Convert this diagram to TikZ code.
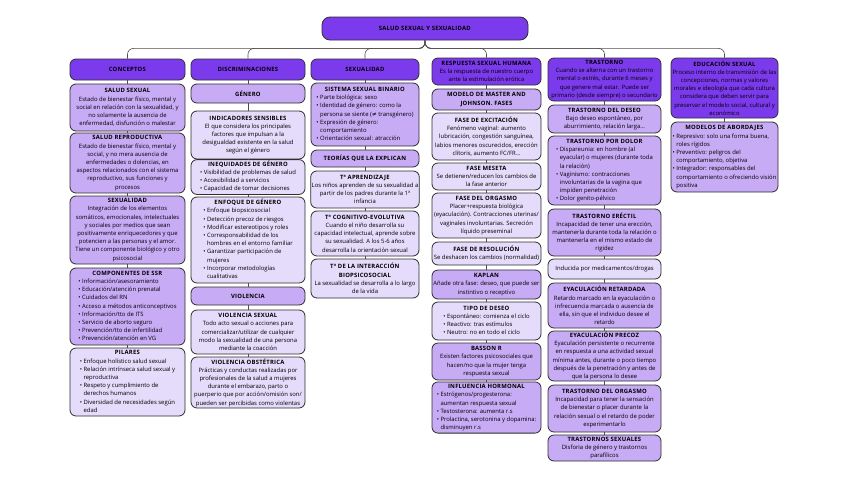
\documentclass[tikz,border=0pt]{standalone}
\usepackage{fontspec}
\setmainfont{Open Sans}
\newfontfamily\dejavu{DejaVu Sans}
\definecolor{dark}{HTML}{7C3AED}
\definecolor{mid}{HTML}{C7ABF5}
\definecolor{light}{HTML}{E5DBFA}
\definecolor{edge}{HTML}{2E2E2E}
\newcommand\fs{\fontsize{5.9}{8.2}\selectfont}
\newcommand\tb[1]{\textbf{\addfontfeature{LetterSpace=4}#1}}
\newcommand\lst[2]{\begin{tabular}{@{}l@{}}\multicolumn{1}{@{}c@{}}{\tb{#1}}\\#2\end{tabular}}
\newcommand\bl{\textbullet\ }
\newcommand\ct{\phantom{\textbullet\ }}
\tikzset{
  box/.style={draw=edge, line width=0.8pt, rounded corners=6pt, inner sep=1pt, font=\fs, text=black, align=center},
  hd/.style={box, fill=dark},
  md/.style={box, fill=mid},
  lt/.style={box, fill=light},
  cA/.style={minimum width=115pt},
  cB/.style={minimum width=114pt},
  cC/.style={minimum width=108pt},
  cD/.style={minimum width=109pt},
  cE/.style={minimum width=113pt},
  cF/.style={minimum width=107pt},
  hgt/.style={minimum height=#1},
  conn/.style={draw=edge!85, line width=0.6pt},
  trunk/.style={conn, rounded corners=6pt},
}
\begin{document}
\begin{tikzpicture}[x=1pt,y=-1pt]
\useasboundingbox[fill=white] (0,0) rectangle (848,477);
% title
\node[hd, minimum width=206pt, minimum height=23pt, rounded corners=8pt] (title) at (425,28.5) {\tb{SALUD SEXUAL Y SEXUALIDAD}};

% ---------- column A: conceptos
\node[hd, cA, hgt=21pt] (a0) at (127.5,69.5) {\tb{CONCEPTOS}};
\node[md, cA, hgt=47pt] (a1) at (127.5,107.5) {\tb{SALUD SEXUAL}\\Estado de bienestar físico, mental y\\social en relación con la sexualidad, y\\no solamente la ausencia de\\enfermedad, disfunción o malestar};
\node[md, cA, hgt=60pt] (a2) at (127.5,163) {\tb{SALUD REPRODUCTIVA}\\Estado de bienestar físico, mental y\\social, y no mera ausencia de\\enfermedades o dolencias, en\\aspectos relacionados con el sistema\\reproductivo, sus funciones y\\procesos};
\node[md, cA, hgt=68pt] (a3) at (127.5,230) {\tb{SEXUALIDAD}\\Integración de los elementos\\somáticos, emocionales, intelectuales\\y sociales por medios que sean\\positivamente enriquecedores y que\\potencien a las personas y el amor.\\Tiene un componente biológico y otro\\psicosocial};
\node[md, cA, hgt=77pt] (a4) at (127.5,306.5) {\lst{COMPONENTES DE SSR}{\bl Información/asesoramiento\\ \bl Educación/atención prenatal\\ \bl Cuidados del RN\\ \bl Acceso a métodos anticonceptivos\\ \bl Información/tto de ITS\\ \bl Servicio de aborto seguro\\ \bl Prevención/tto de infertilidad\\ \bl Prevención/atención en VG}};
\node[lt, cA, hgt=68pt] (a5) at (127.5,382) {\lst{PILARES}{\bl Enfoque holístico salud sexual\\ \bl Relación intrínseca salud sexual y\\ \ct reproductiva\\ \bl Respeto y cumplimiento de\\ \ct derechos humanos\\ \bl Diversidad de necesidades según\\ \ct edad}};

% ---------- column B: discriminaciones
\node[hd, cB, hgt=21pt] (b0) at (248,69.5) {\tb{DISCRIMINACIONES}};
\node[md, cB, hgt=19pt] (b1) at (248,93.5) {\tb{GÉNERO}};
\node[lt, cB, hgt=48pt] (b2) at (248,135) {\tb{INDICADORES SENSIBLES}\\El que considera los principales\\factores que impulsan a la\\desigualdad existente en la salud\\según el género};
\node[lt, cB, hgt=32pt] (b3) at (248,177) {\lst{INEQUIDADES DE GÉNERO}{\bl Visibilidad de problemas de salud\\ \bl Accesibilidad a servicios\\ \bl Capacidad de tomar decisiones}};
\node[lt, cB, hgt=86pt] (b4) at (248,240) {\lst{ENFOQUE DE GÉNERO}{\bl Enfoque biopsicosocial\\ \bl Detección precoz de riesgos\\ \bl Modificar estereotipos y roles\\ \bl Corresponsabilidad de los\\ \ct hombres en el entorno familiar\\ \bl Garantizar participación de\\ \ct mujeres\\ \bl Incorporar metodologías\\ \ct cualitativas}};
\node[md, cB, hgt=18pt] (b5) at (248,296) {\tb{VIOLENCIA}};
\node[lt, cB, hgt=44pt] (b6) at (248,332) {\tb{VIOLENCIA SEXUAL}\\Todo acto sexual o acciones para\\comercializar/utilizar de cualquier\\modo la sexualidad de una persona\\mediante la coacción};
\node[lt, cB, hgt=51pt] (b7) at (248,382.5) {\tb{VIOLENCIA OBSTÉTRICA}\\Prácticas y conductas realizadas por\\profesionales de la salud a mujeres\\durante el embarazo, parto o\\puerperio que por acción/omisión son/\\pueden ser percibidas como violentas};

% ---------- column C: sexualidad
\node[hd, cC, hgt=21pt] (s0) at (365,69.5) {\tb{SEXUALIDAD}};
\node[md, cC, hgt=63pt] (s1) at (365,114.5) {\lst{SISTEMA SEXUAL BINARIO}{\bl Parte biológica: sexo\\ \bl Identidad de género: como la\\ \ct persona se siente ({\dejavu ≠} transgénero)\\ \bl Expresión de género:\\ \ct comportamiento\\ \bl Orientación sexual: atracción}};
\node[md, cC, hgt=17pt] (s2) at (365,158.5) {\tb{TEORÍAS QUE LA EXPLICAN}};
\node[lt, cC, hgt=37pt] (s3) at (365,189.5) {\tb{Tª APRENDIZAJE}\\Los niños aprenden de su sexualidad a\\partir de los padres durante la 1ª\\infancia};
\node[lt, cC, hgt=45pt] (s4) at (365,233.5) {\tb{Tª COGNITIVO-EVOLUTIVA}\\Cuando el niño desarrolla su\\capacidad intelectual, aprende sobre\\su sexualidad. A los 5-6 años\\desarrolla la orientación sexual};
\node[lt, cC, hgt=39pt] (s5) at (365,278.5) {\tb{Tª DE LA INTERACCIÓN}\\\tb{BIOPSICOSOCIAL}\\La sexualidad se desarrolla a lo largo\\de la vida};

% ---------- column D: respuesta sexual humana
\node[hd, cD, hgt=27pt] (r0) at (486.5,71.5) {\tb{RESPUESTA SEXUAL HUMANA}\\Es la respuesta de nuestro cuerpo\\ante la estimulación erótica};
\node[md, cD, hgt=21pt] (r1) at (486.5,99.5) {\tb{MODELO DE MASTER AND}\\\tb{JOHNSON. FASES}};
\node[lt, cD, hgt=47pt] (r2) at (486.5,136.5) {\tb{FASE DE EXCITACIÓN}\\Fenómeno vaginal: aumento\\lubricación, congestión sanguínea,\\labios menores oscurecidos, erección\\clítoris, aumento FC/FR...};
\node[lt, cD, hgt=27pt] (r3) at (486.5,176.5) {\tb{FASE MESETA}\\Se detienen/reducen los cambios de\\la fase anterior};
\node[lt, cD, hgt=45pt] (r4) at (486.5,215.5) {\tb{FASE DEL ORGASMO}\\Placer+respuesta biológica\\(eyaculación). Contracciones uterinas/\\vaginales involuntarias. Secreción\\líquido preseminal};
\node[lt, cD, hgt=23pt] (r5) at (486.5,253.5) {\tb{FASE DE RESOLUCIÓN}\\Se deshacen los cambios (normalidad)};
\node[md, cD, hgt=29pt] (r6) at (486.5,284.5) {\tb{KAPLAN}\\Añade otra fase: deseo, que puede ser\\instintivo o receptivo};
\node[lt, cD, hgt=38pt] (r7) at (486.5,321) {\lst{TIPO DE DESEO}{\bl Espontáneo: comienza el ciclo\\ \bl Reactivo: tras estímulos\\ \bl Neutro: no en todo el ciclo}};
\node[md, cD, hgt=37pt] (r8) at (486.5,361.5) {\tb{BASSON R}\\Existen factores psicosociales que\\hacen/no que la mujer tenga\\respuesta sexual};
\node[md, cD, hgt=51pt] (r9) at (486.5,407.5) {\lst{INFLUENCIA HORMONAL}{\bl Estrógenos/progesterona:\\ \ct aumentan respuesta sexual\\ \bl Testosterona: aumenta r.s\\ \bl Prolactina, serotonina y dopamina:\\ \ct disminuyen r.s}};

% ---------- column E: trastorno
\node[hd, cE, hgt=43pt] (t0) at (604.5,79.5) {\tb{TRASTORNO}\\Cuando se alterna con un trastorno\\mental o estrés, durante 6 meses y\\que genere mal estar. Puede ser\\primario (desde siempre) o secundario};
\node[md, cE, hgt=28pt] (t1) at (604.5,119) {\tb{TRASTORNO DEL DESEO}\\Bajo deseo espontáneo, por\\aburrimiento, relación larga...};
\node[md, cE, hgt=69pt] (t2) at (604.5,170.5) {\lst{TRASTORNO POR DOLOR}{\bl Dispareunia: en hombre (al\\ \ct eyacular) o mujeres (durante toda\\ \ct la relación)\\ \bl Vaginismo: contracciones\\ \ct involuntarias de la vagina que\\ \ct impiden penetración\\ \bl Dolor genito-pélvico}};
\node[md, cE, hgt=47pt] (t3) at (604.5,232.5) {\tb{TRASTORNO ERÉCTIL}\\Incapacidad de tener una erección,\\mantenerla durante toda la relación o\\mantenerla en el mismo estado de\\rigidez};
\node[lt, cE, hgt=20pt] (t4) at (604.5,269) {Inducida por medicamentos/drogas};
\node[md, cE, hgt=45pt] (t5) at (604.5,305.5) {\tb{EYACULACIÓN RETARDADA}\\Retardo marcado en la eyaculación o\\infrecuencia marcada o ausencia de\\ella, sin que el individuo desee el\\retardo};
\node[md, cE, hgt=50pt] (t6) at (604.5,356) {\tb{EYACULACIÓN PRECOZ}\\Eyaculación persistente o recurrente\\en respuesta a una actividad sexual\\mínima antes, durante o poco tiempo\\después de la penetración y antes de\\que la persona lo desee};
\node[md, cE, hgt=47pt] (t7) at (604.5,408.5) {\tb{TRASTORNO DEL ORGASMO}\\Incapacidad para tener la sensación\\de bienestar o placer durante la\\relación sexual o el retardo de poder\\experimentarlo};
\node[md, cE, hgt=26pt] (t8) at (604.5,448) {\tb{TRASTORNOS SEXUALES}\\Disforia de género y trastornos\\parafílicos};

% ---------- column F: educacion sexual
\node[hd, cF, hgt=60pt] (e0) at (724.5,88) {\tb{EDUCACIÓN SEXUAL}\\Proceso interno de transmisión de las\\concepciones, normas y valores\\morales e ideología que cada cultura\\considera que deben servir para\\preservar el modelo social, cultural y\\económico};
\node[md, cF, hgt=70pt] (e1) at (724.5,157) {\lst{MODELOS DE ABORDAJES}{\bl Represivo: solo una forma buena,\\ \ct roles rígidos\\ \bl Preventivo: peligros del\\ \ct comportamiento, objetiva\\ \bl Integrador: responsables del\\ \ct comportamiento o ofreciendo visión\\ \ct positiva}};

% ---------- connectors
\foreach \h in {a0,b0,s0,r0,t0,e0}
  \draw[trunk] (title.south) -- ++(0,8) -| (\h.north);
\foreach \p/\q in {a0/a1,a1/a2,a2/a3,a3/a4,a4/a5,
                   b0/b1,b1/b2,b2/b3,b3/b4,b4/b5,b5/b6,b6/b7,
                   s0/s1,s1/s2,s2/s3,s3/s4,s4/s5,
                   r0/r1,r1/r2,r2/r3,r3/r4,r4/r5,r5/r6,r6/r7,r7/r8,r8/r9,
                   t0/t1,t1/t2,t2/t3,t3/t4,t4/t5,t5/t6,t6/t7,t7/t8,
                   e0/e1}
  \draw[conn] (\p.south) -- (\q.north);
\end{tikzpicture}
\end{document}
